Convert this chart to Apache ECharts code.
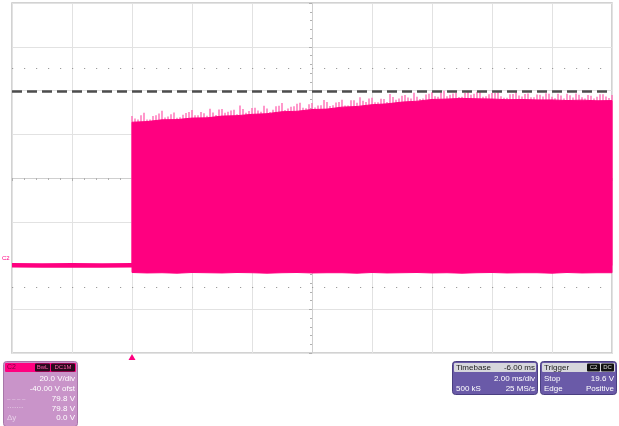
<!DOCTYPE html>
<html>
<head>
<meta charset="utf-8">
<script src="https://cdn.jsdelivr.net/npm/echarts@6/dist/echarts.min.js"></script>
<style>
html,body{margin:0;padding:0;background:#fff;}
#c{width:619px;height:426px;}
</style>
</head>
<body>
<div id="c"></div>
<script>
// ---- data (time in ms relative to trigger, voltage in V) ----
const preTrigTime = [-4, -3, -2, -1, 0];
const preTrigVolt = [0.1, 0.0, 0.1, 0.0, 0.1];

const envTime = [0,0.5,1,1.5,2,2.5,3,3.5,4,4.5,5,5.5,6,6.5,7,7.5,8,8.5,9,9.5,10,10.5,11,11.5,12,12.5,13,13.5,14,14.5,15,15.5,16];
const envTop = [65.5,65.8,66.6,66.7,67.4,67.5,68.3,68.5,69.1,69.4,70.3,70.5,71.3,71.5,72.4,72.7,73.5,73.9,74.7,75.1,75.9,76.1,76.4,76.2,76.1,75.8,75.9,75.7,75.7,75.4,75.6,75.3,75.4];
const envBottom = [-3.2,-3.4,-3.3,-3.5,-3.2,-3.3,-3.4,-3.2,-3.3,-3.5,-3.3,-3.2,-3.4,-3.3,-3.3,-3.5,-3.2,-3.4,-3.3,-3.2,-3.4,-3.3,-3.5,-3.3,-3.2,-3.4,-3.3,-3.3,-3.5,-3.2,-3.4,-3.3,-3.3];

// spike peaks above the solid envelope, sampled every 0.2 ms (A: from 0 ms, B: from 0.1 ms)
const spikeStep = 0.2;
const spikeVoltA = [68.3,66.8,69.8,66.8,68.7,70.8,68.1,69.9,67.8,69.7,71.1,68.7,69.6,71.7,68.8,71.6,70.3,71.2,73.1,69.8,72.0,70.9,73.0,70.2,72.8,74.3,71.8,72.8,74.4,71.9,74.3,73.2,75.7,72.9,74.5,75.8,73.2,75.5,76.9,74.8,76.7,74.6,76.1,78.4,75.8,77.6,76.8,79.0,76.1,78.2,79.2,77.2,79.9,78.1,79.0,77.2,79.9,78.5,79.8,77.4,78.9,79.2,76.7,78.3,79.4,77.3,78.6,76.9,78.1,78.7,77.1,78.5,76.4,77.8,78.6,76.9,78.0,76.4,78.3,77.3,77.9];
const spikeVoltB = [67.2,68.7,66.8,68.4,69.5,67.7,69.2,67.5,68.9,70.2,68.7,70.2,68.5,69.9,71.3,69.8,70.9,69.2,71.6,70.6,72.1,70.3,71.8,71.2,73.0,71.1,72.6,73.9,72.1,73.7,72.2,73.3,74.7,73.3,74.7,73.1,75.5,74.4,75.3,76.3,74.6,76.2,74.8,77.0,76.4,77.9,76.3,77.2,76.4,78.5,77.4,79.1,77.4,78.6,77.0,78.9,78.1,79.4,77.2,78.3,78.9,77.4,76.7,78.4,77.7,78.4,76.9,78.2,77.3,78.5,76.5,77.7,78.5,76.8,78.1,76.3,77.6,77.1,78.3,76.6];

const cursorLevel = 79.8;
const triggerTime = 0;

const xMin = -4, xMax = 16;
const yMin = -40, yMax = 120;

const PINK = '#ff0080';
const font = 'Liberation Sans, Arial, sans-serif';

const spikeData = spikeVoltA.map((v, i) => [+(i * spikeStep).toFixed(2), v])
  .concat(spikeVoltB.map((v, i) => [+(0.1 + i * spikeStep).toFixed(2), v]));
const envData = envTime.map((t, i) => [t, envBottom[i], envTop[i]]);
const preData = preTrigTime.map((t, i) => [t, preTrigVolt[i]]);

const gridPos = { left: 12, top: 3, width: 600, height: 350 };

function txt(x, y, text, opt) {
  opt = opt || {};
  return {
    type: 'text', silent: true, z: 100,
    style: {
      x: x, y: y, text: text,
      fill: opt.fill || '#fff',
      font: (opt.bold ? 'bold ' : '') + (opt.size || 8) + 'px ' + font,
      align: opt.align || 'left', textAlign: opt.align || 'left',
      verticalAlign: 'middle', textVerticalAlign: 'middle'
    }
  };
}
function rect(x, y, w, h, fill, r, stroke) {
  return { type: 'rect', silent: true, z: 99,
    shape: { x: x, y: y, width: w, height: h, r: r || 0 },
    style: { fill: fill, stroke: stroke || null, lineWidth: stroke ? 1 : 0 } };
}

const graphics = [
  txt(2, 258, 'C2', { fill: PINK, size: 6 }),
  rect(3.5, 361.5, 74, 65, '#c994c9', 3, '#a877a8'),
  rect(5, 363, 71, 9, PINK, 1),
  txt(7, 367.5, 'C2', { fill: '#7a0040', size: 7 }),
  rect(35, 363.5, 15, 8, '#2a0a1e', 1),
  txt(42.5, 367.5, 'BwL', { fill: '#ff5aa8', size: 6, align: 'center' }),
  rect(51, 363.5, 24, 8, '#2a0a1e', 1),
  txt(63, 367.5, 'DC1M', { fill: '#ff5aa8', size: 6, align: 'center' }),
  txt(75, 379, '20.0 V/div', { align: 'right' }),
  txt(75, 389, '-40.00 V ofst', { align: 'right' }),
  txt(7, 399, '‒ ‒ ‒ ‒', { fill: '#e8d0e8', size: 6 }),
  txt(75, 399, '79.8 V', { align: 'right' }),
  txt(7, 408.5, '·······', { fill: '#e8d0e8', size: 7 }),
  txt(75, 408.5, '79.8 V', { align: 'right' }),
  txt(7, 418, 'Δy', { fill: '#e8d0e8' }),
  txt(75, 418, '0.0 V', { align: 'right' }),
  rect(452.5, 361.5, 85, 33, '#6a5aa8', 3, '#4a3f80'),
  rect(454, 363, 82, 9, '#d6d6dc', 1),
  txt(456, 367.5, 'Timebase', { fill: '#222' }),
  txt(535, 367.5, '-6.00 ms', { fill: '#222', align: 'right' }),
  txt(535, 379, '2.00 ms/div', { align: 'right' }),
  txt(456, 389, '500 kS'),
  txt(535, 389, '25 MS/s', { align: 'right' }),
  rect(540.5, 361.5, 76, 33, '#6a5aa8', 3, '#4a3f80'),
  rect(542, 363, 73, 9, '#d6d6dc', 1),
  txt(544, 367.5, 'Trigger', { fill: '#222' }),
  rect(587, 363.5, 13, 8, '#111', 1),
  txt(593.5, 367.5, 'C2', { fill: '#ddd', size: 6, align: 'center' }),
  rect(601, 363.5, 13, 8, '#111', 1),
  txt(607.5, 367.5, 'DC', { fill: '#ddd', size: 6, align: 'center' }),
  txt(544, 379, 'Stop'),
  txt(614, 379, '19.6 V', { align: 'right' }),
  txt(544, 389, 'Edge'),
  txt(614, 389, 'Positive', { align: 'right' })
];

function renderBand(params, api) {
  if (params.dataIndex !== 0) return null;
  const upper = [], lower = [];
  for (let i = 0; i < envTime.length; i++) {
    upper.push(api.coord([envTime[i], envTop[i]]));
    lower.push(api.coord([envTime[i], envBottom[i]]));
  }
  const pts = upper.concat(lower.reverse());
  return { type: 'polygon', shape: { points: pts },
    style: { fill: PINK, stroke: PINK, lineWidth: 1 } };
}

const chart = echarts.init(document.getElementById('c'), null, { renderer: 'canvas' });
chart.setOption({
  animation: false,
  backgroundColor: '#fff',
  grid: [
    Object.assign({ show: true, borderColor: '#c4c4c4', borderWidth: 1.5, backgroundColor: 'transparent' }, gridPos),
    Object.assign({ show: false }, gridPos)
  ],
  xAxis: [
    { gridIndex: 0, type: 'value', min: xMin, max: xMax, show: false },
    { gridIndex: 1, type: 'value', min: -5, max: 5, interval: 1,
      axisLabel: { show: false },
      axisLine: { show: true, onZero: true, lineStyle: { color: '#cfcfcf', width: 1 } },
      axisTick: { show: true, length: 3, lineStyle: { color: '#b0b0b0' } },
      minorTick: { show: true, splitNumber: 5, length: 2, lineStyle: { color: '#b0b0b0' } },
      splitLine: { show: true, lineStyle: { color: '#e2e2e2', width: 1 } } }
  ],
  yAxis: [
    { gridIndex: 0, type: 'value', min: yMin, max: yMax, show: false },
    { gridIndex: 1, type: 'value', min: -4, max: 4, interval: 1,
      axisLabel: { show: false },
      axisLine: { show: true, onZero: true, lineStyle: { color: '#cfcfcf', width: 1 } },
      axisTick: { show: true, length: 3, lineStyle: { color: '#b0b0b0' } },
      minorTick: { show: true, splitNumber: 5, length: 2, lineStyle: { color: '#b0b0b0' } },
      splitLine: { show: true, lineStyle: { color: '#e2e2e2', width: 1 } } }
  ],
  series: [
    { type: 'line', xAxisIndex: 1, yAxisIndex: 1, data: [], silent: true, symbol: 'none',
      markLine: { silent: true, symbol: ['none', 'none'], label: { show: false },
        lineStyle: { color: '#9a9a9a', width: 1, type: [1.2, 10.8] },
        data: [{ yAxis: 2.5 }, { yAxis: -2.5 }] } },
    { name: 'pre', type: 'line', xAxisIndex: 0, yAxisIndex: 0, data: preData, symbol: 'none', silent: true,
      lineStyle: { color: PINK, width: 4.5 },
      markPoint: { silent: true, symbol: 'triangle', symbolSize: [7, 6], symbolOffset: [0, 4],
        itemStyle: { color: PINK }, label: { show: false },
        data: [{ coord: [triggerTime, yMin] }] } },
    { name: 'spikes', type: 'bar', xAxisIndex: 0, yAxisIndex: 0, data: spikeData, barWidth: 1.4, silent: true,
      itemStyle: { color: '#ff6db6' } },
    { name: 'burst', type: 'custom', xAxisIndex: 0, yAxisIndex: 0, data: envData, silent: true, z: 3,
      encode: { x: 0, y: [1, 2] }, renderItem: renderBand },
    { name: 'cursor', type: 'line', xAxisIndex: 0, yAxisIndex: 0, data: [], symbol: 'none', silent: true, z: 10,
      markLine: { silent: true, symbol: ['none', 'none'], label: { show: false },
        lineStyle: { color: '#4d4d4d', width: 2.5, type: [10, 5] },
        data: [{ yAxis: cursorLevel }] } }
  ],
  graphic: graphics
});
</script>
</body>
</html>
